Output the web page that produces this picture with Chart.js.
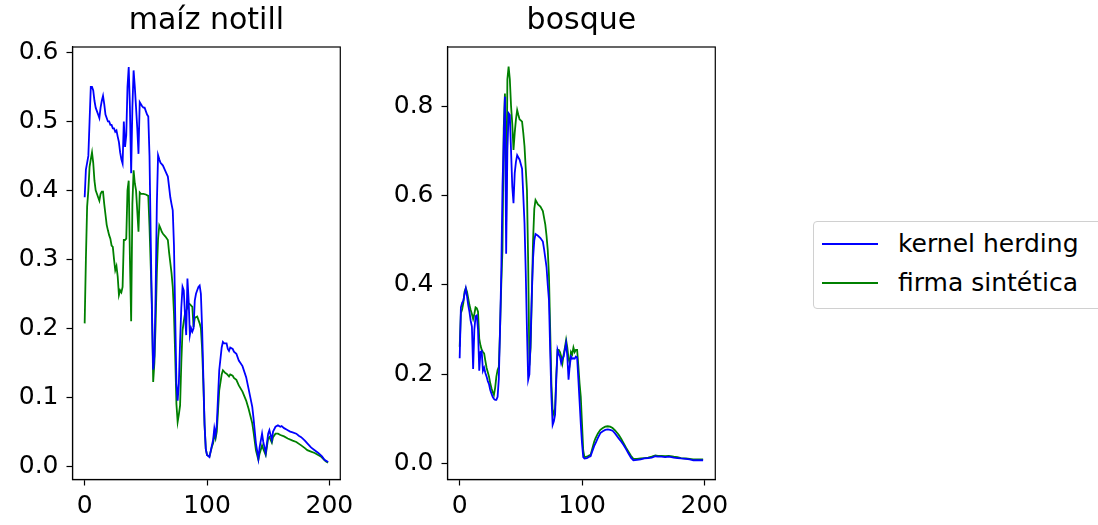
<!DOCTYPE html>
<html>
<head>
<meta charset="utf-8">
<script src="https://cdn.jsdelivr.net/npm/chart.js@4.4.1/dist/chart.umd.min.js"></script>
<style>
    body {
        margin: 0;
        width: 1098px;
        height: 525px;
        overflow: hidden;
        background: #fff;
        position: relative;
        font-family: "DejaVu Sans", sans-serif;
    }
    canvas { position: absolute; top: 0; }
    #chartMaiz { left: 0; }
    #chartBosque { left: 375px; }
    #legend {
        position: absolute;
        left: 813px;
        top: 221px;
        width: 300px;
        height: 86px;
        border: 1px solid #d0d0d0;
        border-radius: 4px;
        background: #fff;
    }
    .legend-item {
        position: absolute;
        left: 0;
        height: 30px;
        line-height: 30px;
        font-size: 25px;
        color: #000;
        white-space: nowrap;
    }
    .legend-line {
        position: absolute;
        left: 8px;
        top: 14px;
        width: 56px;
        height: 2px;
    }
    .legend-text {
        position: absolute;
        left: 84px;
        top: 0;
    }
</style>
</head>
<body>
<canvas id="chartMaiz" width="360" height="525"></canvas>
<canvas id="chartBosque" width="360" height="525"></canvas>
<div id="legend"></div>
<script>
// Series names and colours
const seriesLabels = ['kernel herding', 'firma sintética'];
const seriesColors = ['#0000ff', '#008000'];

// Tick positions
const bandTicks = [0, 100, 200];
const maizTicks = [0.0, 0.1, 0.2, 0.3, 0.4, 0.5, 0.6];
const bosqueTicks = [0.0, 0.2, 0.4, 0.6, 0.8];

// maíz notill - kernel herding
const maizKernelX = [0, 1, 2, 3, 4, 5, 6, 7, 8, 9, 10, 11, 12, 13, 14, 15, 16, 17, 18, 19, 20, 21, 22, 23, 24, 25, 26, 27, 28, 29,
    30, 31, 32, 33, 34, 35, 36, 37, 38, 39, 40, 41, 42, 43, 44, 45, 46, 47, 48, 49, 50, 51, 52, 53, 54, 55, 56, 57, 58, 59,
    60, 61, 62, 63, 64, 65, 66, 67, 68, 69, 70, 71, 72, 73, 74, 75, 76, 77, 78, 79, 80, 81, 82, 83, 84, 85, 86, 87, 88, 89,
    90, 91, 92, 93, 94, 95, 96, 97, 98, 99, 100, 102, 104, 105, 106, 107, 108, 109, 110, 112, 113, 114, 116, 117, 118, 119,
    121, 122, 124, 126, 129, 132, 134, 137, 138, 140, 142, 143, 145, 146, 148, 150, 151, 153, 154, 156, 158, 160, 161, 163,
    165, 166, 168, 170, 173, 175, 177, 180, 182, 185, 188, 191, 194, 196, 199];
const maizKernelY = [0.39, 0.43, 0.44, 0.45, 0.50, 0.55, 0.55, 0.545, 0.53, 0.52, 0.515, 0.51, 0.505, 0.52, 0.53, 0.537, 0.525, 0.51, 0.505, 0.50,
    0.50, 0.495, 0.495, 0.49, 0.49, 0.485, 0.487, 0.478, 0.47, 0.455, 0.445, 0.439, 0.50, 0.463, 0.48, 0.55, 0.579, 0.52, 0.425, 0.52,
    0.574, 0.55, 0.52, 0.49, 0.453, 0.528, 0.525, 0.522, 0.52, 0.52, 0.515, 0.51, 0.507, 0.45, 0.33, 0.22, 0.14, 0.16, 0.25, 0.38,
    0.451, 0.445, 0.44, 0.438, 0.436, 0.432, 0.428, 0.424, 0.42, 0.405, 0.39, 0.38, 0.371, 0.32, 0.22, 0.12, 0.095, 0.12, 0.18, 0.23,
    0.26, 0.255, 0.22, 0.19, 0.272, 0.24, 0.19, 0.20, 0.195, 0.20, 0.24, 0.25, 0.255, 0.26, 0.262, 0.25, 0.20, 0.13, 0.06, 0.025,
    0.016, 0.013, 0.03, 0.038, 0.055, 0.045, 0.06, 0.10, 0.139, 0.172, 0.18, 0.178, 0.178, 0.17, 0.167, 0.172,
    0.17, 0.166, 0.163, 0.153, 0.145, 0.129, 0.112, 0.086, 0.07, 0.033, 0.011, 0.027, 0.047, 0.035, 0.019, 0.047, 0.052, 0.038, 0.05, 0.057,
    0.059, 0.057, 0.058, 0.055, 0.053, 0.052, 0.05, 0.049, 0.047, 0.044, 0.042, 0.037, 0.033, 0.027, 0.023, 0.019, 0.014, 0.009, 0.006];

// maíz notill - firma sintética
const maizFirmaX = [0, 1, 2, 3, 4, 5, 6, 7, 8, 9, 10, 11, 12, 13, 14, 15, 16, 17, 18, 19, 20, 21, 22, 23, 24, 25, 26, 27, 28, 29,
    30, 31, 32, 33, 34, 35, 36, 37, 38, 39, 40, 41, 42, 43, 44, 45, 46, 48, 50, 52, 53, 54, 55, 56, 57, 58, 59,
    60, 61, 62, 63, 64, 66, 68, 69, 70, 71, 72, 73, 74, 75, 76, 77, 78, 79, 80, 81, 82, 84, 85, 86, 88, 89,
    90, 92, 94, 95, 96, 97, 98, 99, 100, 102, 104, 105, 106, 107, 108, 109, 110, 112, 113, 115, 116, 118, 119,
    121, 122, 124, 126, 129, 132, 134, 137, 138, 140, 142, 143, 145, 146, 148, 150, 151, 153, 154, 156, 158, 160, 163,
    166, 170, 173, 177, 180, 182, 185, 188, 193, 197, 199];
const maizFirmaY = [0.207, 0.30, 0.376, 0.40, 0.434, 0.445, 0.455, 0.44, 0.414, 0.40, 0.395, 0.39, 0.385, 0.395, 0.398, 0.398, 0.38, 0.365, 0.35, 0.342,
    0.335, 0.33, 0.32, 0.318, 0.30, 0.284, 0.29, 0.275, 0.248, 0.255, 0.252, 0.26, 0.328, 0.328, 0.33, 0.40, 0.414, 0.30, 0.21, 0.38,
    0.429, 0.41, 0.40, 0.37, 0.34, 0.397, 0.395, 0.395, 0.394, 0.392, 0.347, 0.29, 0.231, 0.122, 0.15, 0.207, 0.28,
    0.33, 0.349, 0.345, 0.34, 0.337, 0.333, 0.328, 0.31, 0.295, 0.28, 0.26, 0.221, 0.16, 0.09, 0.064, 0.075, 0.088, 0.15,
    0.197, 0.21, 0.221, 0.23, 0.236, 0.235, 0.231, 0.202, 0.215, 0.217, 0.207, 0.20, 0.17, 0.12, 0.06, 0.025,
    0.016, 0.014, 0.028, 0.033, 0.047, 0.04, 0.05, 0.08, 0.11, 0.133, 0.139, 0.135, 0.134, 0.13, 0.133,
    0.131, 0.128, 0.125, 0.117, 0.108, 0.095, 0.083, 0.062, 0.05, 0.023, 0.009, 0.018, 0.03, 0.025, 0.016, 0.04, 0.042, 0.034, 0.042,
    0.047, 0.047, 0.045, 0.043, 0.04, 0.037, 0.035, 0.03, 0.026, 0.023, 0.021, 0.019, 0.014, 0.007, 0.005];

// bosque - kernel herding
const bosqueKernelX = [0, 1, 2, 3, 4, 5, 6, 7, 8, 9, 10, 11, 12, 13, 14, 15, 16, 17, 18, 19, 20, 21, 22, 23, 24, 25, 26, 27, 28, 29,
    30, 31, 32, 33, 34, 35, 36, 37, 38, 39, 40, 41, 42, 43, 44, 45, 46, 47, 48, 49, 50, 51, 52, 53, 54, 55, 56, 57, 58, 59,
    60, 61, 62, 64, 66, 68, 69, 70, 71, 72, 73, 74, 75, 76, 77, 78, 79, 80, 81, 82, 83, 84, 85, 86, 87, 88, 89,
    90, 91, 92, 93, 94, 95, 96, 97, 98, 99, 100, 101, 102, 104, 106, 107, 108, 110, 111, 113, 115, 117, 119,
    121, 123, 125, 127, 130, 132, 134, 136, 138, 140, 142, 145, 148, 151, 154, 157, 160, 162, 165, 168, 171, 175,
    178, 181, 185, 188, 191, 195, 198, 199];
const bosqueKernelY = [0.236, 0.35, 0.36, 0.365, 0.38, 0.392, 0.375, 0.355, 0.34, 0.32, 0.307, 0.212, 0.30, 0.33, 0.332, 0.30, 0.208, 0.25, 0.252, 0.208,
    0.215, 0.203, 0.195, 0.185, 0.178, 0.165, 0.157, 0.15, 0.145, 0.143, 0.143, 0.15, 0.19, 0.30, 0.426, 0.62, 0.724, 0.821, 0.47, 0.70,
    0.784, 0.78, 0.70, 0.62, 0.583, 0.65, 0.675, 0.69, 0.685, 0.68, 0.67, 0.66, 0.60, 0.538, 0.43, 0.30, 0.188, 0.20, 0.28, 0.38,
    0.46, 0.50, 0.514, 0.51, 0.505, 0.497, 0.48, 0.46, 0.44, 0.40, 0.366, 0.25, 0.15, 0.087, 0.095, 0.11, 0.19, 0.255, 0.245, 0.24,
    0.225, 0.235, 0.24, 0.255, 0.27, 0.24, 0.188, 0.22, 0.24, 0.235, 0.236, 0.235, 0.24, 0.238, 0.19, 0.14, 0.09,
    0.046, 0.015, 0.012, 0.013, 0.016, 0.017, 0.025, 0.04, 0.046, 0.058, 0.069, 0.073, 0.076,
    0.077, 0.076, 0.074, 0.068, 0.057, 0.05, 0.042, 0.033, 0.023, 0.014, 0.008, 0.009, 0.01, 0.012, 0.013, 0.014, 0.017, 0.016, 0.016,
    0.015, 0.016, 0.014, 0.013, 0.012, 0.011, 0.01, 0.008, 0.008, 0.008, 0.008];

// bosque - firma sintética
const bosqueFirmaX = [0, 1, 2, 3, 4, 5, 6, 7, 8, 9, 10, 11, 12, 13, 14, 15, 16, 17, 18, 19, 20, 21, 22, 23, 24, 25, 26, 27, 28, 29,
    30, 31, 32, 33, 34, 35, 36, 37, 38, 39, 40, 41, 42, 43, 44, 45, 46, 47, 48, 49, 50, 51, 52, 53, 54, 55, 56, 57, 58, 59,
    60, 61, 62, 63, 64, 66, 68, 69, 70, 71, 72, 73, 74, 75, 76, 77, 78, 79, 80, 81, 82, 83, 84, 85, 86, 87, 88, 89,
    90, 91, 92, 93, 94, 95, 96, 97, 98, 99, 100, 101, 102, 104, 106, 107, 108, 110, 111, 113, 115, 117, 119,
    121, 123, 125, 127, 130, 132, 134, 136, 138, 140, 142, 145, 148, 151, 154, 157, 160, 162, 165, 168, 171, 175,
    178, 181, 185, 188, 191, 195, 198, 199];
const bosqueFirmaY = [0.262, 0.337, 0.345, 0.36, 0.385, 0.393, 0.385, 0.37, 0.355, 0.344, 0.335, 0.324, 0.335, 0.35, 0.348, 0.34, 0.28, 0.265, 0.255, 0.25,
    0.247, 0.23, 0.215, 0.205, 0.195, 0.18, 0.169, 0.16, 0.154, 0.17, 0.195, 0.21, 0.217, 0.30, 0.40, 0.48, 0.75, 0.828, 0.54, 0.86,
    0.888, 0.86, 0.80, 0.76, 0.702, 0.74, 0.77, 0.791, 0.78, 0.77, 0.768, 0.765, 0.74, 0.71, 0.66, 0.612, 0.45, 0.22, 0.26, 0.38,
    0.50, 0.57, 0.59, 0.585, 0.58, 0.575, 0.565, 0.55, 0.535, 0.51, 0.478, 0.42, 0.30, 0.18, 0.12, 0.11, 0.125, 0.20,
    0.255, 0.255, 0.25, 0.24, 0.225, 0.245, 0.26, 0.277, 0.26, 0.235, 0.225, 0.25, 0.245, 0.26, 0.25, 0.255, 0.255, 0.22, 0.18, 0.15,
    0.09, 0.03, 0.015, 0.016, 0.019, 0.02, 0.03, 0.05, 0.057, 0.068, 0.076, 0.08, 0.083,
    0.084, 0.083, 0.08, 0.075, 0.065, 0.056, 0.046, 0.036, 0.027, 0.018, 0.011, 0.011, 0.012, 0.013, 0.014, 0.016, 0.019, 0.018, 0.018,
    0.017, 0.018, 0.016, 0.015, 0.013, 0.012, 0.011, 0.01, 0.01, 0.01, 0.01];

const tickFont = { family: 'DejaVu Sans', size: 25 };

// Box around the plotting area, like matplotlib spines
const framePlugin = {
    id: 'frame',
    afterDraw(chart) {
        const { ctx, chartArea } = chart;
        ctx.save();
        ctx.strokeStyle = '#000';
        ctx.lineWidth = 1.2;
        ctx.strokeRect(chartArea.left, chartArea.top, chartArea.right - chartArea.left, chartArea.bottom - chartArea.top);
        ctx.restore();
    }
};

const buildDatasets = (xs, ys) => xs.map((x, s) => ({
    label: seriesLabels[s],
    data: x.map((v, i) => ({ x: v, y: ys[s][i] })),
    borderColor: seriesColors[s],
    borderWidth: 1.8,
    pointRadius: 0,
    tension: 0,
    fill: false,
}));

const makeChart = (id, title, datasets, yTicks, yMin, yMax, padRight) => {
    const ctx = document.getElementById(id).getContext('2d');
    return new Chart(ctx, {
        type: 'line',
        data: { datasets },
        options: {
            responsive: false,
            animation: false,
            layout: { padding: { top: 2, right: padRight, bottom: 0, left: 0 } },
            plugins: {
                legend: { display: false },
                tooltip: { enabled: false },
                title: {
                    display: true,
                    text: title,
                    fullSize: false,
                    color: '#000',
                    font: { family: 'DejaVu Sans', size: 30, weight: 'normal' },
                    padding: { top: 1, bottom: 8 },
                },
            },
            scales: {
                x: {
                    type: 'linear',
                    min: -9.95,
                    max: 208.95,
                    afterBuildTicks: (scale) => { scale.ticks = bandTicks.map(v => ({ value: v })); },
                    afterFit: (scale) => { scale.height = 45.5; },
                    grid: { drawOnChartArea: false, drawTicks: true, tickLength: 6, color: '#000', tickWidth: 1.2 },
                    border: { display: true, color: '#000', width: 1.2 },
                    ticks: { color: '#000', font: tickFont, padding: 6, maxRotation: 0 },
                },
                y: {
                    type: 'linear',
                    min: yMin,
                    max: yMax,
                    afterBuildTicks: (scale) => { scale.ticks = yTicks.map(v => ({ value: v })); },
                    afterFit: (scale) => { scale.width = 72.5; },
                    grid: { drawOnChartArea: false, drawTicks: true, tickLength: 6, color: '#000', tickWidth: 1.2 },
                    border: { display: true, color: '#000', width: 1.2 },
                    ticks: { color: '#000', font: tickFont, padding: 8, callback: (v) => v.toFixed(1) },
                },
            },
        },
        plugins: [framePlugin],
    });
};

makeChart('chartMaiz', 'maíz notill',
    buildDatasets([maizKernelX, maizFirmaX], [maizKernelY, maizFirmaY]),
    maizTicks, -0.0195, 0.608, 16);

makeChart('chartBosque', 'bosque',
    buildDatasets([bosqueKernelX, bosqueFirmaX], [bosqueKernelY, bosqueFirmaY]),
    bosqueTicks, -0.035, 0.932, 18);

// Figure legend on the right
const legend = document.getElementById('legend');
seriesLabels.forEach((label, i) => {
    const item = document.createElement('div');
    item.className = 'legend-item';
    item.style.top = `${7 + i * 39}px`;
    item.innerHTML = `<span class="legend-line" style="background:${seriesColors[i]}"></span><span class="legend-text">${label}</span>`;
    legend.appendChild(item);
});
</script>
</body>
</html>
